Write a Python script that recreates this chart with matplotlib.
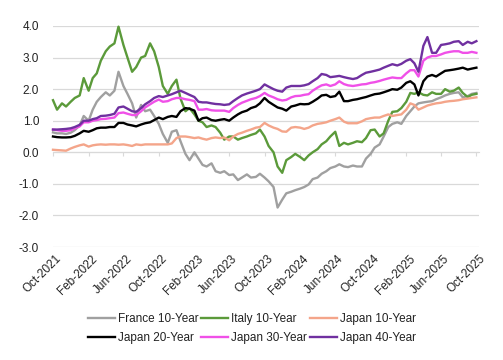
import matplotlib
matplotlib.use("Agg")
import matplotlib.pyplot as plt
import matplotlib.transforms as mtransforms
import pandas as pd

plt.rcParams['font.family'] = ['Liberation Sans', 'DejaVu Sans']

# semi-monthly observation dates (1st and 15th), Oct-2021 .. Oct-2025
dates = pd.date_range('2021-10-01', '2025-10-01', freq='SMS')

france_10y = [
    0.63, 0.60, 0.60, 0.58, 0.62, 0.70, 0.85, 1.15, 1.00, 1.35,
    1.60, 1.75, 1.90, 1.80, 1.95, 2.55, 2.10, 1.85, 1.55, 1.10,
    1.50, 1.30, 1.35, 1.15, 0.90, 0.58, 0.30, 0.65, 0.70, 0.35,
    -0.05, -0.25, 0.00, -0.20, -0.40, -0.45, -0.35, -0.60, -0.65, -0.60,
    -0.72, -0.70, -0.88, -0.80, -0.70, -0.80, -0.78, -0.68, -0.80, -0.92,
    -1.10, -1.75, -1.50, -1.30, -1.25, -1.20, -1.15, -1.10, -1.02, -0.85,
    -0.80, -0.68, -0.60, -0.50, -0.45, -0.38, -0.45, -0.47, -0.42, -0.45,
    -0.45, -0.20, -0.05, 0.15, 0.25, 0.50, 0.80, 0.90, 0.95, 0.90,
    1.15, 1.30, 1.45, 1.55, 1.58, 1.60, 1.62, 1.68, 1.74, 1.80,
    1.85, 1.88, 1.90, 1.74, 1.78, 1.85, 1.88]

italy_10y = [
    1.65, 1.35, 1.55, 1.45, 1.60, 1.72, 1.80, 2.35, 1.95, 2.35,
    2.50, 2.90, 3.20, 3.35, 3.45, 3.98, 3.40, 3.00, 2.55, 2.70,
    3.00, 3.05, 3.45, 3.20, 2.70, 2.10, 1.85, 2.10, 2.30, 1.70,
    1.30, 1.40, 1.20, 1.00, 0.95, 0.80, 0.85, 0.80, 0.62, 0.40,
    0.50, 0.50, 0.40, 0.45, 0.50, 0.55, 0.60, 0.72, 0.50, 0.20,
    0.00, -0.45, -0.65, -0.25, -0.15, -0.05, -0.15, -0.25, -0.10, 0.00,
    0.10, 0.25, 0.35, 0.50, 0.65, 0.20, 0.30, 0.25, 0.30, 0.35,
    0.32, 0.45, 0.70, 0.72, 0.50, 0.60, 1.00, 1.28, 1.30, 1.40,
    1.60, 1.88, 1.85, 1.90, 1.82, 1.80, 1.90, 1.85, 1.85, 2.00,
    1.92, 1.95, 2.05, 1.88, 1.75, 1.82, 1.85]

japan_10y = [
    0.08, 0.07, 0.06, 0.05, 0.12, 0.17, 0.22, 0.25, 0.18, 0.22,
    0.24, 0.25, 0.24, 0.25, 0.25, 0.24, 0.25, 0.23, 0.20, 0.25,
    0.23, 0.25, 0.25, 0.25, 0.25, 0.25, 0.25, 0.28, 0.45, 0.50,
    0.50, 0.48, 0.45, 0.47, 0.43, 0.40, 0.45, 0.47, 0.45, 0.47,
    0.38, 0.50, 0.58, 0.62, 0.68, 0.72, 0.78, 0.80, 0.93, 0.85,
    0.78, 0.74, 0.66, 0.65, 0.78, 0.80, 0.78, 0.74, 0.78, 0.85,
    0.90, 0.92, 0.95, 1.00, 1.05, 1.10, 0.97, 0.92, 0.92, 0.92,
    0.98, 1.05, 1.08, 1.10, 1.10, 1.15, 1.20, 1.15, 1.18, 1.20,
    1.35, 1.55, 1.50, 1.35, 1.42, 1.48, 1.52, 1.55, 1.57, 1.60,
    1.62, 1.63, 1.65, 1.68, 1.70, 1.72, 1.74]

japan_20y = [
    0.50, 0.48, 0.47, 0.47, 0.48, 0.52, 0.60, 0.68, 0.65, 0.70,
    0.76, 0.78, 0.78, 0.80, 0.80, 0.93, 0.93, 0.88, 0.85, 0.82,
    0.88, 0.92, 0.95, 1.02, 1.10, 1.05, 1.12, 1.15, 1.12, 1.30,
    1.40, 1.38, 1.32, 1.00, 1.08, 1.10, 1.02, 1.00, 1.03, 1.05,
    1.00, 1.10, 1.20, 1.27, 1.32, 1.40, 1.45, 1.55, 1.72, 1.60,
    1.50, 1.42, 1.38, 1.32, 1.45, 1.48, 1.53, 1.52, 1.53, 1.60,
    1.70, 1.80, 1.82, 1.75, 1.78, 1.92, 1.62, 1.62, 1.66, 1.68,
    1.72, 1.75, 1.80, 1.84, 1.86, 1.90, 1.95, 2.00, 1.98, 2.05,
    2.20, 2.25, 2.15, 1.80, 2.25, 2.40, 2.45, 2.40, 2.50, 2.58,
    2.60, 2.62, 2.65, 2.68, 2.62, 2.65, 2.68]

japan_30y = [
    0.72, 0.70, 0.68, 0.68, 0.70, 0.76, 0.82, 0.95, 0.95, 1.00,
    1.02, 1.05, 1.06, 1.08, 1.10, 1.24, 1.26, 1.22, 1.18, 1.18,
    1.30, 1.42, 1.52, 1.60, 1.67, 1.60, 1.62, 1.68, 1.72, 1.72,
    1.68, 1.66, 1.62, 1.35, 1.35, 1.37, 1.33, 1.32, 1.32, 1.32,
    1.28, 1.40, 1.50, 1.57, 1.63, 1.68, 1.72, 1.78, 1.88, 1.80,
    1.74, 1.68, 1.64, 1.66, 1.74, 1.78, 1.79, 1.82, 1.84, 1.95,
    2.05, 2.12, 2.15, 2.10, 2.15, 2.25, 2.16, 2.12, 2.10, 2.12,
    2.15, 2.16, 2.20, 2.22, 2.26, 2.30, 2.34, 2.37, 2.35, 2.35,
    2.50, 2.60, 2.60, 2.40, 2.90, 3.00, 3.05, 3.05, 3.10, 3.15,
    3.18, 3.20, 3.20, 3.15, 3.15, 3.18, 3.15]

japan_40y = [
    0.72, 0.72, 0.73, 0.74, 0.76, 0.80, 0.87, 1.00, 1.00, 1.05,
    1.08, 1.15, 1.16, 1.18, 1.22, 1.42, 1.45, 1.38, 1.30, 1.28,
    1.40, 1.52, 1.62, 1.72, 1.78, 1.75, 1.80, 1.84, 1.90, 1.95,
    1.88, 1.82, 1.75, 1.60, 1.58, 1.58, 1.55, 1.53, 1.52, 1.50,
    1.52, 1.62, 1.72, 1.80, 1.86, 1.90, 1.95, 2.00, 2.15, 2.08,
    2.00, 1.95, 1.92, 2.05, 2.10, 2.10, 2.10, 2.12, 2.16, 2.25,
    2.35, 2.48, 2.45, 2.38, 2.40, 2.42, 2.38, 2.35, 2.32, 2.35,
    2.45, 2.52, 2.55, 2.58, 2.62, 2.68, 2.74, 2.79, 2.75, 2.80,
    2.90, 2.95, 2.82, 2.55, 3.37, 3.65, 3.15, 3.15, 3.40, 3.42,
    3.45, 3.50, 3.52, 3.40, 3.50, 3.45, 3.52]

series_names = ['France 10-Year', 'Italy 10-Year', 'Japan 10-Year',
                'Japan 20-Year', 'Japan 30-Year', 'Japan 40-Year']
series_values = [france_10y, italy_10y, japan_10y, japan_20y, japan_30y, japan_40y]
series_colors = ['#A0A0A0', '#5B9A3A', '#F4A58A', '#000000', '#F050E8', '#7030A0']

tick_dates = pd.date_range('2021-10-01', '2025-10-01', freq='4MS')
tick_labels = [d.strftime('%b-%Y') for d in tick_dates]
y_ticks = [-3, -2, -1, 0, 1, 2, 3, 4]

FS = 8.5

fig = plt.figure(figsize=(5.03, 3.60), dpi=100)
ax = fig.add_axes([53 / 503, 1 - 247 / 360, (479 - 53) / 503, (247 - 26) / 360])

for y in y_ticks:
    ax.axhline(y, color='#D9D9D9', lw=0.9, zorder=0)

handles = {}
for name, vals, col in zip(series_names, series_values, series_colors):
    ln, = ax.plot(dates, vals, color=col, lw=1.7, label=name, clip_on=False, zorder=3)
    handles[name] = ln

ax.set_xlim(pd.Timestamp('2021-10-01'), pd.Timestamp('2025-10-10'))
ax.set_ylim(-3, 4)
ax.set_yticks(y_ticks)
ax.set_yticklabels([f'{v:.1f}' for v in y_ticks])
ax.tick_params(axis='y', length=0, pad=10, labelsize=FS, colors='#222222')

for s in ['left', 'right', 'top']:
    ax.spines[s].set_visible(False)
ax.spines['bottom'].set_position(('data', 0))
ax.spines['bottom'].set_color('#D9D9D9')
ax.spines['bottom'].set_zorder(1)
ax.set_xticks(tick_dates)
ax.tick_params(axis='x', direction='out', length=3, color='#D9D9D9', labelbottom=False)

trans = mtransforms.blended_transform_factory(ax.transData, ax.transAxes)
offset = mtransforms.ScaledTranslation(2.5 / 100, -6 / 100, fig.dpi_scale_trans)
for d, lab in zip(tick_dates, tick_labels):
    ax.text(d, 0, lab, transform=trans + offset, rotation=45, ha='right', va='top',
            rotation_mode='anchor', fontsize=FS, color='#222222')

order = ['France 10-Year', 'Japan 20-Year', 'Italy 10-Year',
         'Japan 30-Year', 'Japan 10-Year', 'Japan 40-Year']
leg = fig.legend([handles[n] for n in order], order, ncol=3, loc='center',
                 bbox_to_anchor=(252 / 503, 1 - 328.5 / 360), frameon=False,
                 fontsize=FS, handlelength=2.3, handletextpad=0.25,
                 columnspacing=0.25, labelspacing=0.6)
for t in leg.get_texts():
    t.set_color('#222222')

fig.savefig('out.png', dpi=100)
